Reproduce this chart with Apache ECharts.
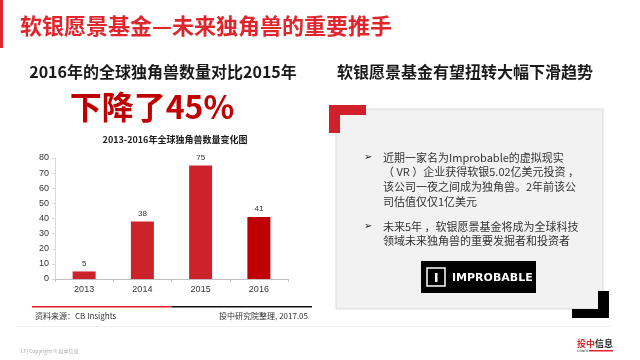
<!DOCTYPE html>
<html>
<head>
<meta charset="utf-8">
<script src="https://cdn.jsdelivr.net/npm/echarts@6/dist/echarts.min.js"></script>
<style>
  html, body { margin: 0; padding: 0; background: #fff; }
  #main { width: 640px; height: 360px; }
</style>
</head>
<body>
<div id="main"></div>
<script>
// 数据
const years = ['2013', '2014', '2015', '2016'];
const unicornCount = [5, 38, 75, 41];
const barColors = ['#cc2229', '#cc2229', '#cc2229', '#c00000'];

const bullet1 = ['近期一家名为Improbable的虚拟现实', '（ VR ）企业获得软银5.02亿美元投资 ，', '该公司一夜之间成为独角兽。2年前该公', '司估值仅仅1亿美元'];
const bullet2 = ['未来5年 ，软银愿景基金将成为全球科技', '领域未来独角兽的重要发掘者和投资者'];

const CJK = '"Noto Sans CJK SC", "Noto Sans", sans-serif';

const chart = echarts.init(document.getElementById('main'), null, { renderer: 'canvas' });

const option = {
  animation: false,
  backgroundColor: '#fff',
  grid: { left: 55, right: 352, top: 158, bottom: 81 },
  xAxis: {
    type: 'category',
    data: years,
    axisLine: { lineStyle: { color: '#bfbfbf' } },
    axisTick: { show: true, alignWithLabel: false, lineStyle: { color: '#bfbfbf' }, length: 3 },
    axisLabel: { color: '#333', fontSize: 9, fontFamily: 'Liberation Sans', margin: 6 }
  },
  yAxis: {
    type: 'value',
    min: 0, max: 80, interval: 10,
    axisLine: { show: true, lineStyle: { color: '#d9d9d9' } },
    axisTick: { show: true, length: 3, lineStyle: { color: '#d9d9d9' } },
    splitLine: { show: false },
    axisLabel: { color: '#333', fontSize: 9, fontFamily: 'Liberation Sans', margin: 6 }
  },
  series: [{
    type: 'bar',
    barWidth: 23,
    data: unicornCount.map((v, i) => ({ value: v, itemStyle: { color: barColors[i] } })),
    label: { show: true, position: 'top', color: '#333', fontSize: 8, fontFamily: 'Liberation Sans', distance: 4 }
  }],
  graphic: [
    // 左侧红色竖条
    { type: 'rect', shape: { x: 0, y: 0, width: 3, height: 48 }, style: { fill: '#e0262c' } },
    // 标题
    { type: 'text', left: 20, top: 15, style: { text: '软银愿景基金—未来独角兽的重要推手', fill: '#e0262c', font: 'bold 22px ' + CJK } },
    // 左侧小标题
    { type: 'text', x: 163, y: 72, style: { text: '2016年的全球独角兽数量对比2015年', fill: '#1a1a1a', font: 'bold 16px ' + CJK, align: 'center', verticalAlign: 'middle' } },
    { type: 'text', x: 152, y: 107, style: { text: '下降了45%', fill: '#c00000', font: 'bold 32px ' + CJK, align: 'center', verticalAlign: 'middle' } },
    { type: 'text', x: 175, y: 140, style: { text: '2013-2016年全球独角兽数量变化图', fill: '#1a1a1a', font: 'bold 9px ' + CJK, align: 'center', verticalAlign: 'middle' } },
    // 来源线
    { type: 'rect', shape: { x: 32, y: 306, width: 140, height: 1.5 }, style: { fill: '#e02020' } },
    { type: 'rect', shape: { x: 172, y: 306, width: 140, height: 1.5 }, style: { fill: '#111' } },
    { type: 'text', x: 35, y: 316, style: { text: '资料来源：CB Insights', fill: '#333', font: '8px ' + CJK, verticalAlign: 'middle' } },
    { type: 'text', x: 308, y: 316, style: { text: '投中研究院整理, 2017.05', fill: '#333', font: '8px ' + CJK, align: 'right', verticalAlign: 'middle' } },
    // 右侧小标题
    { type: 'text', x: 465, y: 72, style: { text: '软银愿景基金有望扭转大幅下滑趋势', fill: '#1a1a1a', font: 'bold 16px ' + CJK, align: 'center', verticalAlign: 'middle' } },
    // 灰色框
    { type: 'rect', shape: { x: 336, y: 109, width: 267, height: 200 }, style: { fill: '#f2f2f2', stroke: '#d9d9d9', lineWidth: 1 } },
    { type: 'rect', shape: { x: 329, y: 105, width: 37, height: 10 }, style: { fill: '#d0202a' } },
    { type: 'rect', shape: { x: 329, y: 105, width: 11, height: 28 }, style: { fill: '#d0202a' } },
    { type: 'rect', shape: { x: 598, y: 291, width: 11, height: 27 }, style: { fill: '#000' } },
    { type: 'rect', shape: { x: 572, y: 309, width: 37, height: 9 }, style: { fill: '#000' } },
    // 要点
    { type: 'text', x: 364, y: 157, style: { text: '➢', fill: '#222', font: '10px "DejaVu Sans"', verticalAlign: 'middle' } },
    { type: 'text', x: 383, y: 150, style: { text: bullet1.join('\n'), fill: '#333', font: '11px ' + CJK, lineHeight: 14.8 } },
    { type: 'text', x: 364, y: 226, style: { text: '➢', fill: '#222', font: '10px "DejaVu Sans"', verticalAlign: 'middle' } },
    { type: 'text', x: 383, y: 219, style: { text: bullet2.join('\n'), fill: '#333', font: '11px ' + CJK, lineHeight: 14.8 } },
    // IMPROBABLE 标志
    { type: 'rect', shape: { x: 421, y: 261, width: 115, height: 32 }, style: { fill: '#000' } },
    { type: 'rect', shape: { x: 427, y: 268, width: 18, height: 18 }, style: { fill: 'none', stroke: '#fff', lineWidth: 1.5 } },
    { type: 'rect', shape: { x: 435, y: 273, width: 2.5, height: 9 }, style: { fill: '#fff' } },
    { type: 'text', x: 452, y: 278, style: { text: 'IMPROBABLE', fill: '#fff', font: 'bold 11px "DejaVu Sans"', verticalAlign: 'middle' } },
    // 页脚
    { type: 'rect', shape: { x: 15, y: 326, width: 597, height: 0.8 }, style: { fill: '#eeeeee' } },
    { type: 'text', x: 20, y: 351, style: { text: '13 | Copyright © 投中信息', fill: '#aaa', font: '5px ' + CJK, verticalAlign: 'middle' } },
    { type: 'text', x: 577, y: 344, style: { text: '投中', fill: '#e0262c', font: 'bold 9px ' + CJK, verticalAlign: 'middle' } },
    { type: 'text', x: 595, y: 344, style: { text: '信息', fill: '#222', font: 'bold 9px ' + CJK, verticalAlign: 'middle' } },
    { type: 'text', x: 577, y: 351, style: { text: 'CVINFO', fill: '#222', font: '3px "DejaVu Sans"', verticalAlign: 'middle' } },
    { type: 'rect', shape: { x: 589, y: 350, width: 24, height: 1.5 }, style: { fill: '#e0262c' } }
  ]
};

chart.setOption(option);
</script>
</body>
</html>
